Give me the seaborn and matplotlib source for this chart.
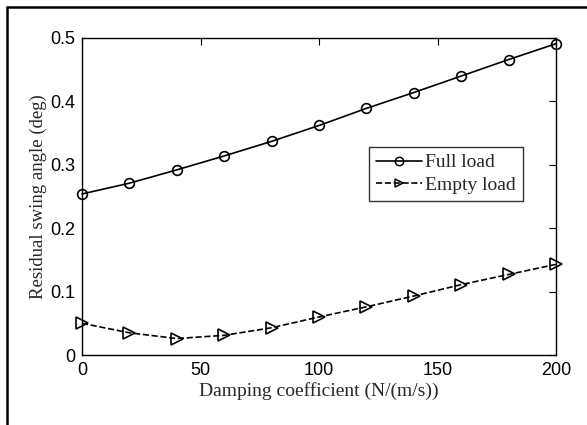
import matplotlib
matplotlib.use("Agg")
import matplotlib.pyplot as plt
import seaborn as sns
import pandas as pd
from matplotlib.lines import Line2D
from matplotlib.ticker import FuncFormatter

damping = [0, 20, 40, 60, 80, 100, 120, 140, 160, 180, 200]
full_load = [0.254, 0.271, 0.292, 0.314, 0.337, 0.362, 0.389, 0.414, 0.440, 0.466, 0.491]
empty_load = [0.050, 0.035, 0.026, 0.031, 0.043, 0.060, 0.076, 0.093, 0.111, 0.127, 0.143]
x_ticks = [0, 50, 100, 150, 200]
y_ticks = [0, 0.1, 0.2, 0.3, 0.4, 0.5]

sns.set_style("white")
serif = ["Liberation Serif", "DejaVu Serif"]
sans = ["Liberation Sans", "DejaVu Sans"]

fig = plt.figure(figsize=(5.87, 4.25), dpi=100)
ax = fig.add_axes([82/587, 1-355/425, (556-82)/587, (355-38)/425])

df_full = pd.DataFrame({"x": damping, "y": full_load})
df_empty = pd.DataFrame({"x": damping, "y": empty_load})

sns.lineplot(data=df_full, x="x", y="y", ax=ax, color="black", lw=1.2,
             marker="o", markersize=7, markerfacecolor="none",
             markeredgecolor="black", markeredgewidth=1.2, label="Full load",
             clip_on=False)
sns.lineplot(data=df_empty, x="x", y="y", ax=ax, color="black", lw=1.2,
             linestyle="--", dashes=(5, 3), marker=">", markersize=8,
             markerfacecolor="none", markeredgecolor="black",
             markeredgewidth=1.2, label="Empty load", clip_on=False)

ax.set_xlim(0, 200)
ax.set_ylim(0, 0.5)
ax.set_xticks(x_ticks)
ax.set_yticks(y_ticks)
ax.yaxis.set_major_formatter(FuncFormatter(lambda v, p: "%g" % v))
ax.tick_params(direction="in", top=True, right=True, length=5, width=0.8,
               labelsize=13, colors="black", pad=5)
for lab in ax.get_xticklabels() + ax.get_yticklabels():
    lab.set_family(sans)
for s in ax.spines.values():
    s.set_color("black")
    s.set_linewidth(1.0)

ax.set_xlabel("Damping coefficient (N/(m/s))", fontsize=14, family=serif, labelpad=2)
ax.set_ylabel("Residual swing angle (deg)", fontsize=13.5, family=serif, labelpad=2)

leg = ax.legend(loc="upper left", bbox_to_anchor=((369-82)/474, (355-147)/317),
                prop={"family": serif, "size": 14}, frameon=True, fancybox=False,
                handlelength=2.4, handletextpad=0.15, borderpad=0.35,
                labelspacing=0.25, borderaxespad=0)
leg.get_frame().set_edgecolor("black")
leg.get_frame().set_linewidth(1.0)
for h in leg.legend_handles:
    h.set_markersize(6)
    h.set_markeredgewidth(1.1)

# outer frame lines (left and top)
fig.add_artist(Line2D([7/587, 7/587], [0, 1-7/425], transform=fig.transFigure,
                      color="black", lw=1.8))
fig.add_artist(Line2D([7/587, 1], [1-7/425, 1-7/425], transform=fig.transFigure,
                      color="black", lw=1.8))

fig.savefig("out.png", dpi=100)
